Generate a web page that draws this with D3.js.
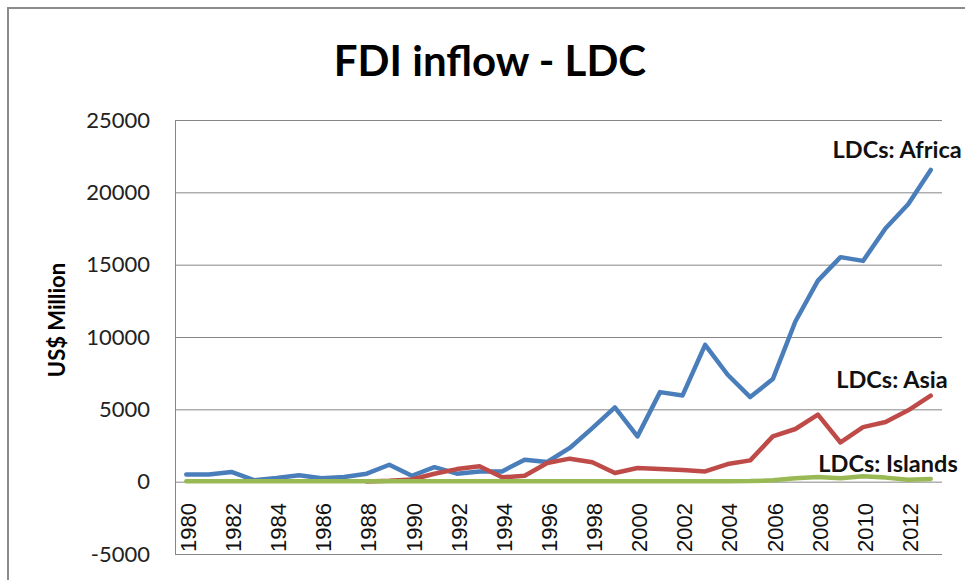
<!DOCTYPE html>
<html>
<head>
<meta charset="utf-8">
<script src="https://cdn.jsdelivr.net/npm/d3@7"></script>
<style>
  body { margin: 0; background: #fff; }
  svg { display: block; }
</style>
</head>
<body>
<div id="chart"></div>
<script>
// data (US$ million)
var years = d3.range(1980, 2014);
var africa = [500, 500, 670, 100, 250, 440, 230, 320, 550, 1170, 410, 1000, 550, 710, 710, 1520, 1360, 2330, 3700, 5130,
  3130, 6190, 5960, 9460, 7390, 5850, 7090, 11070, 13900, 15520, 15260, 17520, 19180, 21550];
var asia = [null, null, null, null, null, null, null, null, 20, 60, 150, 550, 870, 1060, 300, 410, 1290, 1590, 1340, 600,
  940, 870, 800, 710, 1220, 1470, 3130, 3640, 4630, 2710, 3770, 4120, 4930, 5940];
var islands = [30, 30, 30, 30, 30, 30, 30, 30, 30, 30, 30, 30, 30, 30, 30, 30, 30, 30, 30, 30,
  30, 30, 30, 30, 30, 40, 90, 230, 320, 230, 370, 280, 140, 190];
var yTicks = [-5000, 0, 5000, 10000, 15000, 20000, 25000];
var seriesNames = ["LDCs: Africa", "LDCs: Asia", "LDCs: Islands"];
var colors = ["#4a7ebb", "#be4b48", "#98b954"];

var svgWidth = 965;
var svgHeight = 580;

var margin = { top: 120, bottom: 26, left: 175, right: 23 };
var width = svgWidth - margin.left - margin.right;
var height = svgHeight - margin.top - margin.bottom;

var svg = d3.select("#chart")
  .append("svg")
  .attr("width", svgWidth)
  .attr("height", svgHeight);

// outer chart frame
svg.append("rect")
  .attr("x", 8)
  .attr("y", 8)
  .attr("width", 1000)
  .attr("height", 1000)
  .attr("fill", "none")
  .attr("stroke", "#8c8c8c")
  .attr("stroke-width", 2);

svg.append("text")
  .attr("x", 490)
  .attr("y", 76)
  .attr("text-anchor", "middle")
  .attr("font-family", "Lato, sans-serif")
  .attr("font-weight", "bold")
  .attr("font-size", "42px")
  .attr("fill", "#000")
  .text("FDI inflow - LDC");

var chartGroup = svg.append("g")
  .attr("transform", `translate(${margin.left}, ${margin.top})`);

var xScale = d3.scaleBand()
  .domain(years)
  .range([0, width]);

var yScale = d3.scaleLinear()
  .domain([-5000, 25000])
  .range([height, 0]);

// gridlines + y labels
var leftAxis = d3.axisLeft(yScale)
  .tickValues(yTicks)
  .tickFormat(d => String(d))
  .tickSize(-width)
  .tickPadding(25);

var yAxisG = chartGroup.append("g").call(leftAxis);
yAxisG.select(".domain").attr("stroke", "#868686");
yAxisG.selectAll(".tick line").attr("stroke", "#868686");
yAxisG.selectAll(".tick text")
  .attr("font-family", "Lato, sans-serif")
  .attr("font-size", "22px")
  .attr("fill", "#222");

// category labels, every second year, sitting at the bottom of the plot
chartGroup.selectAll(".xlab")
  .data(years.filter(d => d % 2 === 0))
  .enter()
  .append("text")
  .attr("class", "xlab")
  .attr("transform", d => `translate(${xScale(d) + xScale.bandwidth() / 2 + 2}, ${height - 2}) rotate(-90)`)
  .attr("dy", "0.35em")
  .attr("text-anchor", "start")
  .attr("font-family", "'Liberation Sans', Arial, sans-serif")
  .attr("font-size", "22px")
  .attr("fill", "#111")
  .text(d => d);

// y axis title
svg.append("text")
  .attr("transform", "translate(65, 320) rotate(-90)")
  .attr("text-anchor", "middle")
  .attr("font-family", "Lato, sans-serif")
  .attr("font-weight", "bold")
  .attr("font-size", "22px")
  .text("US$ Million");

var line = d3.line()
  .defined(d => d != null)
  .x((d, i) => xScale(years[i]) + xScale.bandwidth() / 2)
  .y(d => yScale(d));

var allSeries = [africa, asia, islands];

chartGroup.selectAll(".series")
  .data(allSeries)
  .enter()
  .append("path")
  .attr("class", "series")
  .attr("d", d => line(d))
  .attr("fill", "none")
  .attr("stroke", (d, i) => colors[i])
  .attr("stroke-width", 4.5)
  .attr("stroke-linejoin", "round")
  .attr("stroke-linecap", "round");

// series labels near the last point
var labelOffsets = [[31, -12], [17, -8], [27, -7]];
chartGroup.selectAll(".slab")
  .data(allSeries)
  .enter()
  .append("text")
  .attr("class", "slab")
  .attr("x", (d, i) => xScale(2013) + xScale.bandwidth() / 2 + labelOffsets[i][0])
  .attr("y", (d, i) => yScale(d[d.length - 1]) + labelOffsets[i][1])
  .attr("text-anchor", "end")
  .attr("font-family", "Lato, sans-serif")
  .attr("font-weight", "bold")
  .attr("font-size", "23.5px")
  .attr("fill", "#111")
  .text((d, i) => seriesNames[i]);
</script>
</body>
</html>
